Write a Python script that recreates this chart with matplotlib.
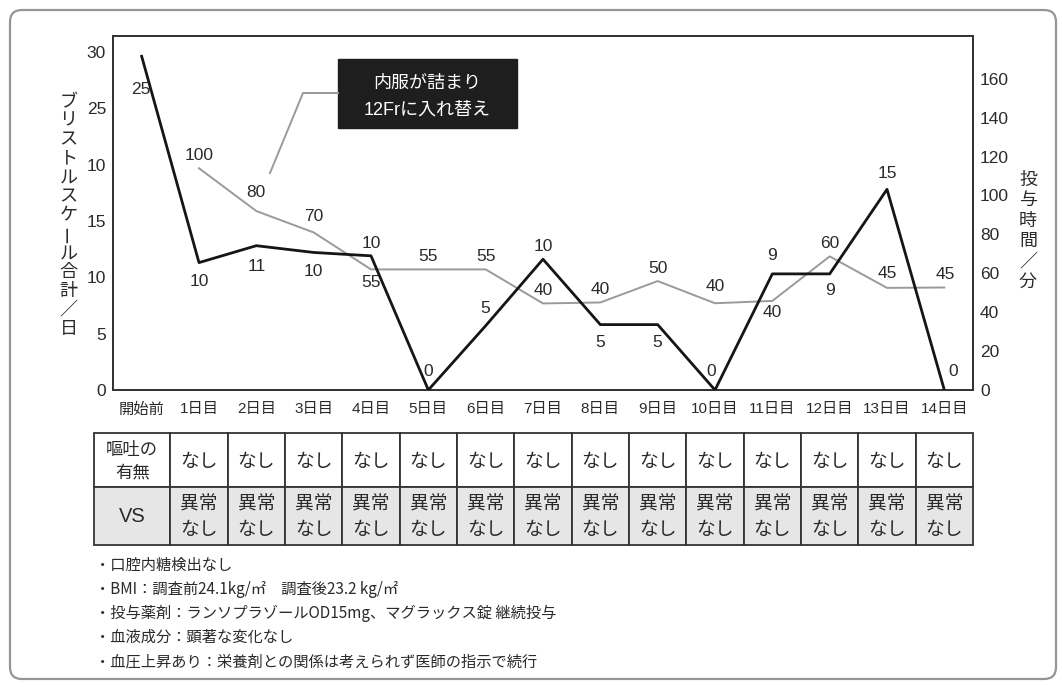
import numpy as np
import matplotlib
matplotlib.use('Agg')
import matplotlib.pyplot as plt
from matplotlib.patches import Rectangle, FancyBboxPatch

plt.rcParams['font.family'] = ['Liberation Sans', 'Noto Sans CJK JP']

# ---------------- data ----------------
categories = ['開始前', '1日目', '2日目', '3日目', '4日目', '5日目', '6日目', '7日目',
              '8日目', '9日目', '10日目', '11日目', '12日目', '13日目', '14日目']
bristol = [29.6, 11.3, 12.8, 12.2, 11.9, 0, 5.7, 11.6, 5.8, 5.8, 0, 10.3, 10.3, 17.8, 0]
bristol_labels = ['25', '10', '11', '10', '10', '0', '5', '10', '5', '5', '0', '9', '9', '15', '0']
dose_time = [np.nan, 114, 92, 81, 62, 62, 62, 44.5, 45, 56, 44.6, 45.8, 68.7, 52.5, 52.7]
dose_labels = ['', '100', '80', '70', '55', '55', '55', '40', '40', '50', '40', '40', '60', '45', '45']
left_ticks = [0, 5, 10, 15, 20, 25, 30]
left_tick_labels = ['0', '5', '10', '15', '10', '25', '30']
right_ticks = [0, 20, 40, 60, 80, 100, 120, 140, 160]
left_ylabel = 'ブリストルスケール合計／日'
right_ylabel = '投与時間／分'
callout_text = ['内服が詰まり', '12Frに入れ替え']
row_headers = ['嘔吐の\n有無', 'VS']
vomit_row = ['なし'] * 14
vs_row = ['異常\nなし'] * 14
notes = ['・口腔内糖検出なし',
         '・BMI：調査前24.1kg/㎡　調査後23.2 kg/㎡',
         '・投与薬剤：ランソプラゾールOD15mg、マグラックス錠 継続投与',
         '・血液成分：顕著な変化なし',
         '・血圧上昇あり：栄養剤との関係は考えられず医師の指示で続行']

# label offsets (pixels, +dy = downward)
bristol_off = [(-1, 33), (0, 19), (0, 21), (0, 19), (0, -12), (0, -18), (0, -17), (0, -13),
               (0, 18), (0, 18), (-4, -18), (0, -18), (0, 17), (0, -16), (9, -19)]
dose_off = [(0, 0), (0, -13), (0, -19), (0, -16), (0, 13), (0, -13), (0, -13), (0, -13),
            (0, -13), (0, -13), (0, -17), (0, 12), (0, -13), (0, -14), (1, -13)]

# ---------------- figure ----------------
W, H = 1062, 687
fig = plt.figure(figsize=(W / 100, H / 100), dpi=100)


def fx(px):
    return px / W


def fy(py):
    return 1 - py / H


TXT = '#2a2a2a'
GRAY = '#9a9a9a'

ax = fig.add_axes([fx(113), fy(390), fx(973) - fx(113), fy(36) - fy(390)])
ax2 = ax.twinx()
x = np.arange(len(categories))

ax2.plot(x, dose_time, color=GRAY, lw=1.4, zorder=2)
ax.plot(x, bristol, color='#151515', lw=2.0, zorder=3)
ax.set_zorder(ax2.get_zorder() + 1)
ax.patch.set_visible(False)

ax.set_xlim(-0.5, 14.5)
ax.set_ylim(0, 31.4)
ax2.set_ylim(0, 182)

ax.set_xticks(x)
ax.set_xticklabels(categories, fontsize=11, color=TXT)
ax.set_yticks(left_ticks)
ax.set_yticklabels(left_tick_labels, fontsize=12.5, color=TXT)
ax2.set_yticks(right_ticks)
ax2.set_yticklabels([str(t) for t in right_ticks], fontsize=12.5, color=TXT)
ax.tick_params(axis='x', length=0, pad=9)
ax.tick_params(axis='y', length=0, pad=5)
ax2.tick_params(axis='y', length=0, pad=5)
for a in (ax, ax2):
    for s in a.spines.values():
        s.set_color('#333333')
        s.set_linewidth(1.3)

for i, (v, lab) in enumerate(zip(bristol, bristol_labels)):
    dx, dy = bristol_off[i]
    ax.annotate(lab, (i, v), xytext=(dx * 0.72, -dy * 0.72), textcoords='offset points',
                ha='center', va='center', fontsize=12.5, color=TXT)
for i, (v, lab) in enumerate(zip(dose_time, dose_labels)):
    if not lab:
        continue
    dx, dy = dose_off[i]
    ax2.annotate(lab, (i, v), xytext=(dx * 0.72, -dy * 0.72), textcoords='offset points',
                 ha='center', va='center', fontsize=12.5, color=TXT)

# ---------------- overlay (pixel coordinates) ----------------
ov = fig.add_axes([0, 0, 1, 1], zorder=10)
ov.set_xlim(0, W)
ov.set_ylim(H, 0)
ov.axis('off')

# outer frame
ov.add_patch(FancyBboxPatch((10, 10), 1046, 669, boxstyle='round,pad=0,rounding_size=12',
                            fc='none', ec='#959595', lw=1.6))

# vertical axis titles
for k, ch in enumerate(left_ylabel):
    ov.text(68.5, 102 + 18.9 * k, ch, ha='center', va='center', fontsize=13, color=TXT,
            family=['Noto Sans CJK JP'], rotation=90 if ch == 'ー' else 0)
for k, ch in enumerate(right_ylabel):
    ov.text(1028, 180 + 20.4 * k, ch, ha='center', va='center', fontsize=13, color=TXT,
            family=['Noto Sans CJK JP'])

# callout box
ov.add_patch(Rectangle((338, 59), 179, 69, fc='#1e1e1e', ec='#1e1e1e'))
ov.text(427.5, 83, callout_text[0], ha='center', va='center', color='white', fontsize=13)
ov.text(427.5, 110, callout_text[1], ha='center', va='center', color='white', fontsize=13)
ov.plot([338, 303, 270], [93, 93, 173], color=GRAY, lw=1.4)

# table aligned with category bands
fig.canvas.draw()
disp = ax.transData.transform
edges = [disp((i - 0.5, 0))[0] for i in range(1, 16)]
col_edges = [94] + edges
row_y = [433, 487, 545]
fills = ['white', '#e6e6e6']
rows = [[row_headers[0]] + vomit_row, [row_headers[1]] + vs_row]
for r in range(2):
    y0, y1 = row_y[r], row_y[r + 1]
    for c in range(len(col_edges) - 1):
        x0, x1 = col_edges[c], col_edges[c + 1]
        ov.add_patch(Rectangle((x0, y0), x1 - x0, y1 - y0, fc=fills[r], ec='#333333', lw=1.3))
        txt = rows[r][c]
        if r == 1 and c == 0:
            ov.text((x0 + x1) / 2, (y0 + y1) / 2, txt, ha='center', va='center',
                    fontsize=14.5, color=TXT, family=['Liberation Sans'])
        else:
            fs = 12.5 if c == 0 else 13.5
            ov.text((x0 + x1) / 2, (y0 + y1) / 2 + 1, txt, ha='center', va='center',
                    fontsize=fs, color=TXT, linespacing=1.3, multialignment='center',
                    family=['Noto Sans CJK JP'])

# notes
note_y = [565, 589, 613, 637, 662]
for ny, nt in zip(note_y, notes):
    ov.text(95, ny, nt, ha='left', va='center', fontsize=11, color=TXT,
            family=['Noto Sans CJK JP', 'DejaVu Sans'])

fig.savefig('out.png', dpi=100)
